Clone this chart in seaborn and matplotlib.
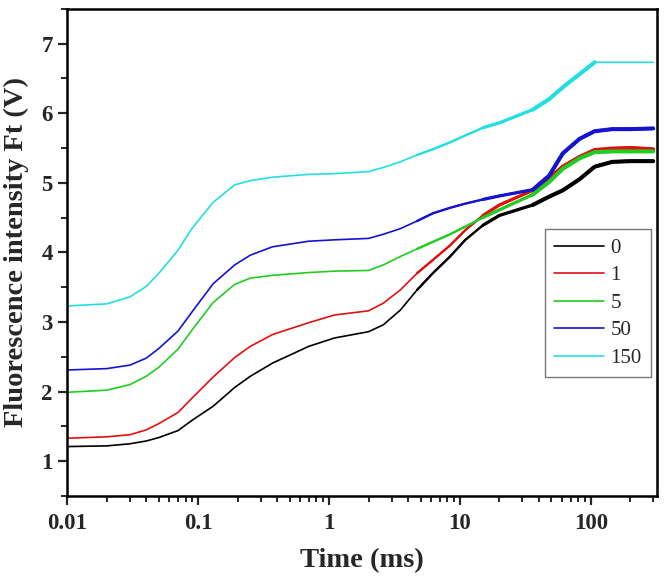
import numpy as np
import pandas as pd
import matplotlib
matplotlib.use("Agg")
import matplotlib.pyplot as plt
import matplotlib.ticker as mticker
import seaborn as sns

# ---- data ----
time_ms = [0.01, 0.02, 0.03, 0.04, 0.05, 0.07, 0.09, 0.13, 0.19, 0.25, 0.37, 0.7, 1.1,
           2, 2.6, 3.5, 4.7, 6.2, 8.4, 11, 15, 20, 36, 48, 61, 82, 107, 146, 200, 300]
doses = ["0", "1", "5", "50", "150"]
ft_0 = [1.21, 1.22, 1.25, 1.29, 1.34, 1.44, 1.59, 1.79, 2.06, 2.22, 2.41, 2.65, 2.77,
        2.86, 2.96, 3.17, 3.46, 3.70, 3.94, 4.18, 4.39, 4.53, 4.68, 4.80, 4.89, 5.05,
        5.23, 5.30, 5.31, 5.31]
ft_1 = [1.33, 1.35, 1.38, 1.45, 1.54, 1.70, 1.91, 2.21, 2.49, 2.65, 2.82, 2.99, 3.10,
        3.16, 3.27, 3.46, 3.70, 3.89, 4.10, 4.32, 4.53, 4.68, 4.89, 5.06, 5.23, 5.37,
        5.47, 5.49, 5.50, 5.48]
ft_5 = [1.99, 2.02, 2.10, 2.22, 2.35, 2.61, 2.89, 3.28, 3.54, 3.63, 3.67, 3.71, 3.73,
        3.74, 3.82, 3.94, 4.05, 4.15, 4.26, 4.37, 4.50, 4.61, 4.83, 5.01, 5.20, 5.35,
        5.44, 5.45, 5.45, 5.45]
ft_50 = [2.31, 2.33, 2.38, 2.48, 2.62, 2.87, 3.15, 3.55, 3.82, 3.96, 4.08, 4.16, 4.18,
         4.20, 4.26, 4.34, 4.45, 4.56, 4.64, 4.70, 4.76, 4.81, 4.90, 5.10, 5.42, 5.63,
         5.74, 5.77, 5.77, 5.78]
ft_150 = [3.23, 3.26, 3.36, 3.51, 3.70, 4.03, 4.35, 4.72, 4.97, 5.03, 5.08, 5.12, 5.13,
          5.16, 5.22, 5.30, 5.40, 5.48, 5.58, 5.68, 5.79, 5.86, 6.05, 6.20, 6.37, 6.56,
          6.73, 6.73, 6.73, 6.73]
series = [ft_0, ft_1, ft_5, ft_50, ft_150]
colors = ["#000000", "#e01010", "#22cc22", "#1414d0", "#22e0e0"]

df = pd.DataFrame({
    "time": np.tile(time_ms, len(doses)),
    "Ft": np.concatenate(series),
    "dose": np.repeat(doses, len(time_ms)),
})
palette = dict(zip(doses, colors))

sns.set_style("white")
plt.rcParams["font.family"] = ["Liberation Serif", "DejaVu Serif"]

fig = plt.figure(figsize=(6.66, 5.76), dpi=100)
ax = fig.add_axes([0.1013, 0.1389, 0.885, 0.846])

sns.lineplot(data=df, x="time", y="Ft", hue="dose", hue_order=doses,
             palette=palette, linewidth=1.2, errorbar=None, ax=ax)
# noisy (thicker-looking) parts of the traces at long times
not_flat = ~((df["dose"] == "150") & (df["time"] > 107))
for t0, lw in [(4.7, 1.7), (15, 2.3), (36, 2.9)]:
    part = df[(df["time"] >= t0) & not_flat]
    sns.lineplot(data=part, x="time", y="Ft", hue="dose", hue_order=doses,
                 palette=palette, linewidth=lw, errorbar=None, ax=ax, legend=False)

ax.set_xscale("log")
ax.set_xlim(0.01, 320)
ax.set_ylim(0.5, 7.5)
ax.yaxis.set_major_locator(mticker.FixedLocator([1, 2, 3, 4, 5, 6, 7]))
ax.yaxis.set_minor_locator(mticker.MultipleLocator(0.5))
ax.xaxis.set_major_locator(mticker.LogLocator(base=10))
ax.xaxis.set_minor_locator(mticker.LogLocator(base=10, subs=np.arange(2, 10)))
ax.xaxis.set_minor_formatter(mticker.NullFormatter())
ax.xaxis.set_major_formatter(mticker.FuncFormatter(lambda v, p: f"{v:g}"))

for s in ax.spines.values():
    s.set_linewidth(1.8)
    s.set_color("black")
ax.tick_params(which="major", direction="out", length=6.5, width=1.6,
               labelsize=16.5, bottom=True, left=True, top=False, right=False, pad=4)
ax.tick_params(axis="x", which="major", pad=6)
ax.tick_params(which="minor", direction="out", length=4.3, width=1.4,
               bottom=True, left=True, top=False, right=False)
for lab in ax.get_xticklabels() + ax.get_yticklabels():
    lab.set_fontweight("bold")

ax.set_xlabel("Time (ms)", fontsize=20.5, fontweight="bold", labelpad=10)
ax.set_ylabel("Fluorescence intensity Ft (V)", fontsize=20.5, fontweight="bold", labelpad=9)

leg = ax.legend(loc="upper right", bbox_to_anchor=(0.99, 0.548), borderaxespad=0,
                frameon=True, fancybox=False, fontsize=15, handlelength=2.4,
                labelspacing=0.38, handletextpad=0.3, borderpad=0.45)
leg.get_frame().set_edgecolor("#555555")
leg.get_frame().set_linewidth(1.0)
for h in leg.get_lines():
    h.set_linewidth(1.2)

fig.savefig("out.png", dpi=100)
